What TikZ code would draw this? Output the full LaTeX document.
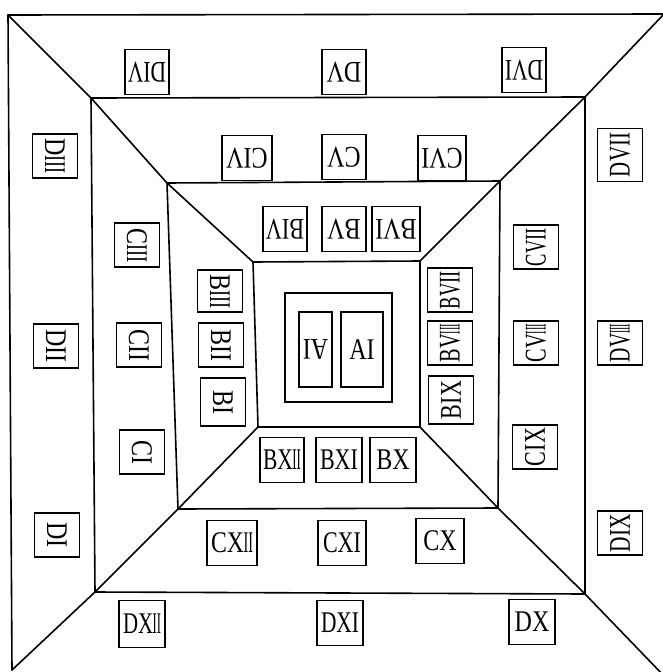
\documentclass[tikz,border=0pt]{standalone}
\usepackage{fontspec}
\setmainfont{Liberation Serif}[FakeStretch=0.8]
\usepackage{graphicx}
\newcommand{\viii}{V\kern-0.5pt\scalebox{0.5}[1]{III}}
\newcommand{\xii}{X\kern-0.5pt\scalebox{0.6}[1]{II}}
\newcommand{\iii}{\scalebox{0.75}[1]{III}}
\newcommand{\fitt}[2][38pt]{\sbox0{#2}\ifdim\wd0>#1\resizebox{#1}{\height}{#2}\else#2\fi}
\begin{document}
\begin{tikzpicture}[x=1pt,y=-1pt,
  frame/.style={line width=1.6pt, line join=round, line cap=round},
  lab/.style={draw, line width=1.6pt, minimum width=44pt, minimum height=45pt, inner sep=1.5pt, font=\fontsize{30}{30}\selectfont},
  topl/.style={lab, rotate=180},
  leftl/.style={lab, rotate=-90},
  rightl/.style={lab, rotate=90},
  abox/.style={draw, line width=1.6pt}]
\useasboundingbox (0,0) rectangle (663,672);
\clip (0,0) rectangle (663,672);
% corners
\coordinate (o1) at (8,15);   \coordinate (o2) at (664,14);
\coordinate (o3) at (666,678); \coordinate (o4) at (12,670);
\coordinate (s1) at (91,98);  \coordinate (s2) at (585,97);
\coordinate (s3) at (585,594); \coordinate (s4) at (95,592);
\coordinate (t1) at (167,183); \coordinate (t2) at (500,181);
\coordinate (t3) at (498,508); \coordinate (t4) at (178,509);
\coordinate (f1) at (253,262); \coordinate (f2) at (420,261);
\coordinate (f3) at (420,427); \coordinate (f4) at (258,427);
% frames
\draw[frame] (o4) -- (o1) -- (o2);
\draw[frame] (s1) -- (s2) -- (s3) -- (s4) -- cycle;
\draw[frame] (t1) -- (t2) -- (t3) -- (t4) -- cycle;
\draw[frame] (f1) -- (f2) -- (f3) -- (f4) -- cycle;
\draw[frame] (o1) -- (s1) -- (t1) -- (f1);
\draw[frame] (o2) -- (s2) -- (t2) -- (f2);
\draw[frame] (o3) -- (s3) -- (t3) -- (f3);
\draw[frame] (o4) -- (s4) -- (t4) -- (f4);
% A
\node[abox, minimum width=107pt, minimum height=109pt, inner sep=0pt] (aout) at (338.5,347.5) {};
\node[abox, minimum width=33pt, minimum height=75pt, inner sep=0pt, font=\fontsize{30}{30}\selectfont, rotate=180] (aleft) at (315.5,349.5) {AI};
\node[abox, minimum width=42pt, minimum height=75pt, inner sep=0pt, font=\fontsize{30}{30}\selectfont] (aright) at (362,349.5) {AI};
% top labels
\node[topl] (div) at (147,72) {\fitt{DIV}};
\node[topl] (dv) at (344,72) {\fitt{DV}};
\node[topl] (dvi) at (524,70) {\fitt{DVI}};
\node[topl, minimum width=50pt] (civ) at (247,158) {\fitt[42pt]{CIV}};
\node[topl] (cv) at (344,157) {\fitt{CV}};
\node[topl, minimum width=48pt] (cvi) at (442,158) {\fitt[42pt]{CVI}};
\node[topl] (biv) at (285,229) {\fitt{BIV}};
\node[topl] (bv) at (344,229) {\fitt{BV}};
\node[topl, minimum width=48pt] (bvi) at (396,229) {\fitt[42pt]{BVI}};
% left labels
\node[leftl] (diii) at (55,156) {\fitt{D\iii}};
\node[leftl] (dii) at (56,346) {\fitt{DII}};
\node[leftl] (di) at (57,535) {\fitt{DI}};
\node[leftl] (ciii) at (137,245) {\fitt{C\iii}};
\node[leftl] (cii) at (139,345) {\fitt{CII}};
\node[leftl] (ci) at (142,452) {\fitt{CI}};
\node[leftl, minimum width=42pt] (biii) at (220,291) {\fitt[36pt]{B\iii}};
\node[leftl] (bii) at (221,345) {\fitt{BII}};
\node[leftl, minimum width=48pt] (bi) at (223,402) {\fitt{BI}};
% right labels
\node[rightl] (bvii) at (450,290) {\fitt{BVII}};
\node[rightl] (bviii) at (450,343) {\fitt{B\viii}};
\node[rightl, minimum width=48pt] (bix) at (451,400) {\fitt{BIX}};
\node[rightl] (cvii) at (536,247) {\fitt{CVII}};
\node[rightl] (cviii) at (536,343) {\fitt{C\viii}};
\node[rightl] (cix) at (535,447) {\fitt{CIX}};
\node[rightl, minimum width=53pt] (dvii) at (620,155) {\fitt[44pt]{DVII}};
\node[rightl] (dviii) at (620,343) {\fitt{D\viii}};
\node[rightl] (dix) at (620,533) {\fitt{DIX}};
% bottom labels
\node[lab] (bxii) at (282,460) {\fitt{B\xii}};
\node[lab, minimum width=46pt] (bxi) at (339,460) {\fitt{BXI}};
\node[lab, minimum width=46pt] (bx) at (393,460) {\fitt{BX}};
\node[lab, minimum width=50pt] (cxii) at (232,543) {\fitt[42pt]{C\xii}};
\node[lab, minimum width=48pt] (cxi) at (342,543) {\fitt{CXI}};
\node[lab, minimum width=48pt] (cx) at (440,541) {\fitt{CX}};
\node[lab, minimum width=46pt, minimum height=47pt] (dxii) at (142,624) {\fitt{D\xii}};
\node[lab, minimum width=46pt] (dxi) at (340,623) {\fitt{DXI}};
\node[lab, minimum width=46pt] (dx) at (532,622) {\fitt{DX}};
\end{tikzpicture}
\end{document}
